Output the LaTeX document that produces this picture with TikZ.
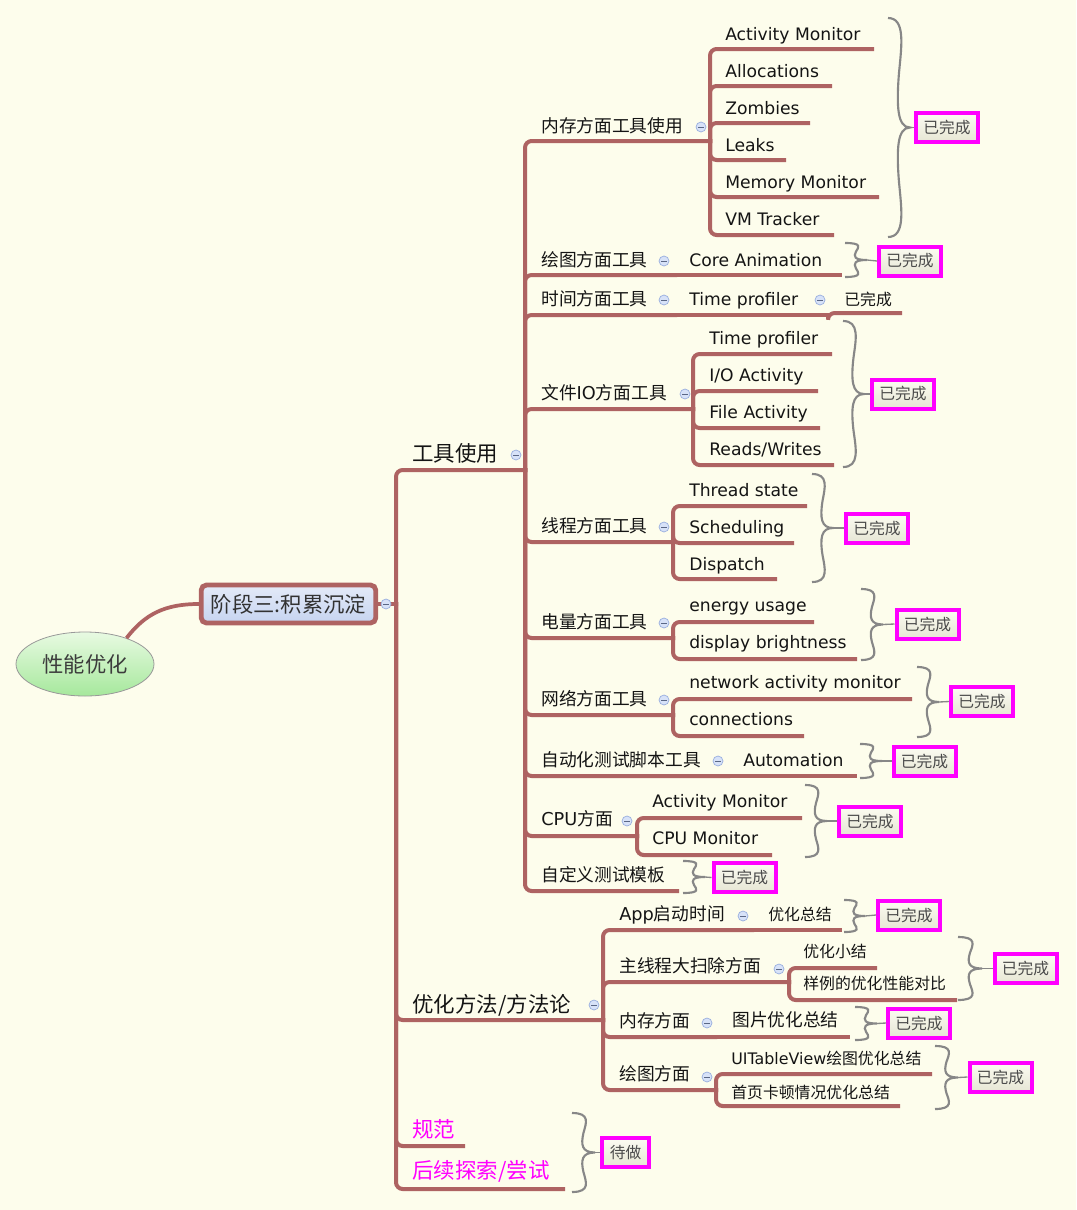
\documentclass[tikz,border=0pt]{standalone}
\usepackage{fontspec}
\setmainfont{Noto Sans CJK SC}
\newfontfamily\lat{DejaVu Sans}
\usetikzlibrary{shapes.geometric}
\definecolor{bgc}{RGB}{253,253,236}
\definecolor{brc}{RGB}{174,99,98}
\definecolor{bracec}{RGB}{135,135,135}
\definecolor{cfill}{RGB}{215,226,248}
\definecolor{cdraw}{RGB}{150,172,222}
\definecolor{txt}{RGB}{20,20,20}
\definecolor{boxtxt}{RGB}{75,75,75}
\definecolor{boxtop}{RGB}{252,252,242}
\definecolor{boxbot}{RGB}{230,230,212}
\definecolor{stgtop}{RGB}{228,234,248}
\definecolor{stgbot}{RGB}{198,212,240}
\definecolor{roottop}{RGB}{232,250,226}
\definecolor{rootbot}{RGB}{166,232,156}
\definecolor{mag}{RGB}{255,0,255}
\tikzset{
 br/.style={draw=brc, line width=3pt, rounded corners=5pt, line cap=rect},
 tA/.style={anchor=base west, inner sep=0, yshift=-5.9pt, font=\fontsize{16.1pt}{18pt}\selectfont, text=txt},
 tB/.style={anchor=base west, inner sep=0, yshift=-4.9pt, font=\fontsize{13.3pt}{15pt}\selectfont, text=txt},
 tL/.style={anchor=base west, inner sep=0, yshift=-4.7pt, font=\lat\fontsize{12.9pt}{15pt}\selectfont, text=txt},
 tC/.style={anchor=base west, inner sep=0, yshift=-4.4pt, font=\fontsize{11.9pt}{14pt}\selectfont, text=txt},
 coll/.style={circle, draw=cdraw, fill=cfill, line width=0.5pt, minimum size=7.5pt, inner sep=0,
   path picture={\draw[cdraw!60!black, line width=0.6pt] ([xshift=-2pt]path picture bounding box.center) -- ([xshift=2pt]path picture bounding box.center);}},
 done/.style={draw=mag, line width=3pt, top color=boxtop, bottom color=boxbot, minimum width=46.5pt, minimum height=21.75pt, inner sep=0, text=boxtxt, font=\fontsize{11.8pt}{14pt}\selectfont},
 bracest/.style={draw=bracec, line width=1.6pt},
 blink/.style={draw=bracec, line width=1pt},
 stagebox/.style={draw=brc, line width=3.6pt, rounded corners=4pt, top color=stgtop, bottom color=stgbot, minimum width=131pt, minimum height=28.5pt, inner sep=0, font=\fontsize{16pt}{18pt}\selectfont, text={rgb,255:red,50;green,50;blue,50}},
 rootnode/.style={ellipse, draw=gray!80, line width=0.6pt, top color=roottop, bottom color=rootbot, minimum width=103.5pt, minimum height=48pt, inner sep=0, font=\fontsize{16pt}{18pt}\selectfont, text={rgb,255:red,60;green,60;blue,60}},
}
\newcommand\topic[7]{\node[#1] (#2) at (#3,#4) {#7}; \coordinate (#2-e) at (#5,#6);}
% curly brace: x0, ytop, ybottom, amplitude, name of tip
\newcommand\brc[5]{%
 \pgfmathsetmacro\bx{#1-5}%
 \pgfmathsetmacro\ba{#4+5}%
 \pgfmathsetmacro\bm{(#2+#3)/2}%
 \pgfmathsetmacro\bh{(#3-#2)/2}%
 \coordinate (#5) at ({\bx+\ba},\bm);%
 \draw[bracest] (\bx,#2)
   .. controls ({\bx+0.8*\ba},#2) and ({\bx+0.62*\ba},{#2+0.25*\bh}) .. ({\bx+0.5*\ba},{#2+0.5*\bh})
   .. controls ({\bx+0.38*\ba},{#2+0.8*\bh}) and ({\bx+0.42*\ba},\bm) .. (#5)
   .. controls ({\bx+0.42*\ba},\bm) and ({\bx+0.38*\ba},{\bm+0.2*\bh}) .. ({\bx+0.5*\ba},{\bm+0.5*\bh})
   .. controls ({\bx+0.62*\ba},{#3-0.25*\bh}) and ({\bx+0.8*\ba},#3) .. (\bx,#3);}
\begin{document}
\begin{tikzpicture}[x=0.75pt,y=-0.75pt]
\fill[bgc] (0,0) rectangle (1076,1210);
\useasboundingbox (0,0) rectangle (1076,1210);

% root and stage
\node[rootnode] (root) at (85,664) {性能优化};
\node[stagebox] (stage) at (288.5,604) {阶段三:积累沉淀};
\draw[brc, line width=2.8pt] (root.32) .. controls (145,614) and (165,604) .. (stage.west);
\coordinate (stage-e) at (396,604);
\draw[br] (stage.east) -- (stage-e);

% level 1
\topic{tA}{tool}{412}{454}{525}{470}{工具使用}
\topic{tA}{opt}{412}{1005}{603}{1020}{优化方法/方法论}
\topic{tA,text=mag}{spec}{412}{1130}{463}{1146}{规范}
\topic{tA,text=mag}{expl}{412}{1171}{563}{1189}{后续探索/尝试}
\foreach \c in {tool,opt,spec,expl} \draw[br] (stage-e) |- (\c-e);

% tools
\topic{tB}{mem}{541}{126}{710}{141}{内存方面工具使用}
\topic{tB}{drw}{541}{260}{675}{275}{绘图方面工具}
\topic{tB}{tim}{541}{299}{675}{315}{时间方面工具}
\topic{tB}{fio}{541}{393}{693}{409}{文件{\lat IO}方面工具}
\topic{tB}{thr}{541}{526}{673}{542}{线程方面工具}
\topic{tB}{pwr}{541}{622}{673}{638}{电量方面工具}
\topic{tB}{net}{541}{699}{673}{715}{网络方面工具}
\topic{tB}{aut}{541}{760}{728}{776}{自动化测试脚本工具}
\topic{tB}{cpu}{541}{819}{637}{836}{{\lat CPU}方面}
\topic{tB}{tpl}{541}{875}{677}{891}{自定义测试模板}
\foreach \c in {mem,drw,tim,fio,thr,pwr,net,aut,cpu,tpl} \draw[br] (tool-e) |- (\c-e);

% memory tools
\topic{tL}{am1}{725}{34}{872}{49}{Activity Monitor}
\topic{tL}{alc}{725}{71}{830}{86}{Allocations}
\topic{tL}{zom}{725}{108}{808}{123}{Zombies}
\topic{tL}{lek}{725}{145}{784}{160}{Leaks}
\topic{tL}{mmo}{725}{182}{877}{197}{Memory Monitor}
\topic{tL}{vmt}{725}{219}{832}{235}{VM Tracker}
\foreach \c in {am1,alc,zom,lek,mmo,vmt} \draw[br] (mem-e) |- (\c-e);

% drawing / time
\topic{tL}{cani}{689}{260}{840}{275}{Core Animation}
\draw[br] (drw-e) -- (cani-e);
\topic{tL}{tp1}{689}{299}{828}{315}{Time profiler}
\draw[br] (tim-e) -- (tp1-e);
\topic{tC}{tpd}{844}{300}{900}{313}{已完成}
\draw[br] (tp1-e) |- (tpd-e);

% file IO
\topic{tL}{tp2}{709}{338}{830}{354}{Time profiler}
\topic{tL}{ioa}{709}{375}{816}{391}{I/O Activity}
\topic{tL}{fac}{709}{412}{818}{428}{File Activity}
\topic{tL}{rw}{709}{449}{832}{465}{Reads/Writes}
\foreach \c in {tp2,ioa,fac,rw} \draw[br] (fio-e) |- (\c-e);

% threads
\topic{tL}{ths}{689}{490}{805}{506}{Thread state}
\topic{tL}{sch}{689}{527}{792}{543}{Scheduling}
\topic{tL}{dsp}{689}{564}{775}{579}{Dispatch}
\foreach \c in {ths,sch,dsp} \draw[br] (thr-e) |- (\c-e);

% power
\topic{tL}{eng}{689}{605}{812}{622}{energy usage}
\topic{tL}{dbr}{689}{642}{855}{659}{display brightness}
\foreach \c in {eng,dbr} \draw[br] (pwr-e) |- (\c-e);

% network
\topic{tL}{nam}{689}{682}{910}{699}{network activity monitor}
\topic{tL}{con}{689}{719}{802}{736}{connections}
\foreach \c in {nam,con} \draw[br] (net-e) |- (\c-e);

% automation
\topic{tL}{atm}{743}{760}{855}{776}{Automation}
\draw[br] (aut-e) -- (atm-e);

% cpu
\topic{tL}{am2}{652}{801}{800}{818}{Activity Monitor}
\topic{tL}{cpm}{652}{838}{770}{855}{CPU Monitor}
\foreach \c in {am2,cpm} \draw[br] (cpu-e) |- (\c-e);

% optimisation methods
\topic{tB}{app}{619}{914}{752}{930}{{\lat App}启动时间}
\topic{tB}{mn}{619}{966}{789}{982}{主线程大扫除方面}
\topic{tB}{mo}{619}{1021}{715}{1037}{内存方面}
\topic{tB}{dr}{619}{1074}{716}{1090}{绘图方面}
\foreach \c in {app,mn,mo,dr} \draw[br] (opt-e) |- (\c-e);

\topic{tC}{ops}{768}{915}{840}{930}{优化总结}
\draw[br] (app-e) -- (ops-e);
\topic{tC}{oxj}{803}{952}{875}{968}{优化小结}
\topic{tC}{ybd}{803}{984}{955}{1000}{样例的优化性能对比}
\foreach \c in {oxj,ybd} \draw[br] (mn-e) |- (\c-e);
\topic{tB}{pic}{732}{1020}{848}{1037}{图片优化总结}
\draw[br] (mo-e) -- (pic-e);
\topic{tC}{uit}{731}{1059}{930}{1074}{{\lat UITableView}绘图优化总结}
\topic{tC}{syk}{731}{1093}{898}{1106}{首页卡顿情况优化总结}
\foreach \c in {uit,syk} \draw[br] (dr-e) |- (\c-e);

% collapse markers
\foreach \p/\n in {{(386,604)}/s, {(516,455)}/a, {(594,1005)}/b, {(701,127)}/c, {(664,261)}/d, {(664,300)}/e, {(820,300)}/f, {(685,394)}/g, {(664,527)}/h, {(664,623)}/i, {(664,700)}/j, {(718,761)}/k, {(627,821)}/l, {(743,916)}/m, {(779,969)}/n, {(707,1023)}/o, {(707,1077)}/p}
  \node[coll] (col-\n) at \p {};

% braces and status boxes
\brc{893}{18}{237}{17}{b1}
\node[done] (d1) at (947,127.5) {已完成};
\brc{850}{243}{277}{17}{b2}
\node[done] (d2) at (910,261) {已完成};
\brc{848}{321}{467}{16}{b3}
\node[done] (d3) at (903,394) {已完成};
\brc{817}{474}{582}{16}{b4}
\node[done] (d4) at (877,528) {已完成};
\brc{866}{589}{660}{17}{b5}
\node[done] (d5) at (927.5,624) {已完成};
\brc{922}{667}{737}{17}{b6}
\node[done] (d6) at (982,701.5) {已完成};
\brc{865}{744}{778}{17}{b7}
\node[done] (d7) at (924.5,761) {已完成};
\brc{810}{785}{857}{17}{b8}
\node[done] (d8) at (870,821) {已完成};
\brc{688}{861}{893}{17}{b9}
\node[done] (d9) at (744.5,877.5) {已完成};
\brc{849}{900}{932}{16}{b10}
\node[done] (d10) at (909,915) {已完成};
\brc{963}{937}{1000}{19}{b11}
\node[done] (d11) at (1025.5,968.5) {已完成};
\brc{860}{1007}{1040}{17}{b12}
\node[done] (d12) at (919,1023) {已完成};
\brc{940}{1046}{1109}{18}{b13}
\node[done] (d13) at (1000.5,1077) {已完成};
\brc{577}{1113}{1192}{18}{b14}
\node[done, minimum width=35pt] (d14) at (625.5,1152.5) {待做};
\foreach \i in {1,...,14} \draw[blink] (b\i) -- (d\i.west);
\end{tikzpicture}
\end{document}
